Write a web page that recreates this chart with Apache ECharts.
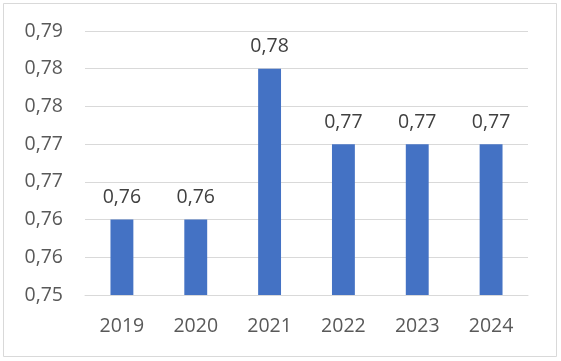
<!DOCTYPE html>
<html>
<head>
<meta charset="utf-8">
<script src="https://cdn.jsdelivr.net/npm/echarts@6/dist/echarts.min.js"></script>
<style>
html,body{margin:0;padding:0;background:#fff;}
#c{width:561px;height:361px;}
</style>
</head>
<body>
<div id="c"></div>
<script>
const categories = ['2019','2020','2021','2022','2023','2024'];
const values = [0.76, 0.76, 0.78, 0.77, 0.77, 0.77];
const yTickLabels = ['0,75','0,76','0,76','0,77','0,77','0,78','0,78','0,79'];

const chart = echarts.init(document.getElementById('c'), null, {renderer:'canvas'});
const font = '"Open Sans", "Noto Sans", sans-serif';
chart.setOption({
  animation:false,
  backgroundColor:'#ffffff',
  graphic:[{type:'rect',shape:{x:3.5,y:3.5,width:553,height:353},style:{fill:'none',stroke:'#d9d9d9',lineWidth:1},silent:true}],
  grid:{left:85,right:33,top:31,bottom:66,containLabel:false},
  xAxis:{
    type:'category',data:categories,
    axisLine:{show:true,lineStyle:{color:'#d9d9d9',width:1}},
    axisTick:{show:false},
    axisLabel:{color:'#595959',fontSize:19.5,fontFamily:font,margin:21}
  },
  yAxis:{
    type:'value',min:0.75,max:0.785,interval:0.005,
    axisLine:{show:false},axisTick:{show:false},
    splitLine:{lineStyle:{color:'#d9d9d9',width:1}},
    axisLabel:{color:'#595959',fontSize:19.5,fontFamily:font,margin:22,
      formatter:function(v,i){return yTickLabels[i];}}
  },
  series:[{
    type:'bar',data:values,barWidth:'31%',
    itemStyle:{color:'#4472c4'},
    label:{show:true,position:'top',distance:12,color:'#404040',fontSize:19.5,fontFamily:font,
      formatter:function(p){return p.value.toFixed(2).replace('.',',');}}
  }]
});
</script>
</body>
</html>
